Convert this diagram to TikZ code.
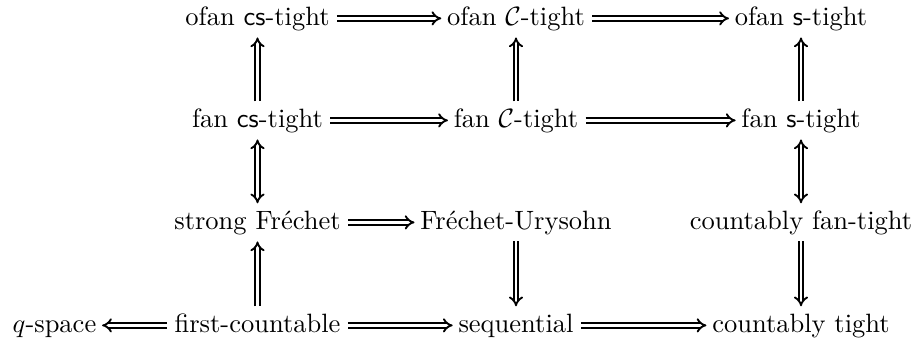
\documentclass[tikz,border=0pt]{standalone}
\usetikzlibrary{arrows.meta}
\begin{document}
\begin{tikzpicture}[x=0.3774pt,y=-0.3774pt]
\tikzset{
  lbl/.style={anchor=base, text height=6.94pt, text depth=1.94pt, inner xsep=2.6pt, inner ysep=0pt},
  dbl/.style={double, double distance=1.05pt, line width=0.7pt},
  imp/.style={dbl, -{Implies}, shorten >=-0.6pt},
  vimp/.style={dbl, -{Implies}, shorten <=7.2pt, shorten >=7.2pt},
  vimpb/.style={dbl, {Implies}-{Implies}, shorten <=7.2pt, shorten >=7.2pt}
}
\useasboundingbox (0,0) rectangle (917,344);
% row 1
\node[lbl] (ofancs) at (257.5,25) {ofan \textsf{cs}-tight};
\node[lbl] (ofanC)  at (516,25)   {ofan $\mathcal{C}$-tight};
\node[lbl] (ofans)  at (801,25)   {ofan \textsf{s}-tight};
% row 2
\node[lbl] (fancs) at (257.5,127) {fan \textsf{cs}-tight};
\node[lbl] (fanC)  at (516,127)   {fan $\mathcal{C}$-tight};
\node[lbl] (fans)  at (801,127)   {fan \textsf{s}-tight};
% row 3
\node[lbl] (sf)  at (257.5,229) {strong Fr\'echet};
\node[lbl] (fu)  at (516,229)   {Fr\'echet-Urysohn};
\node[lbl] (cft) at (801,229)   {countably fan-tight};
% row 4
\node[lbl] (q)   at (54.5,332)  {$q$-space};
\node[lbl] (fc)  at (257.5,332) {first-countable};
\node[lbl] (seq) at (516,332)   {sequential};
\node[lbl] (ct)  at (801,332)   {countably tight};
% horizontal arrows
\draw[imp] (ofancs.east) -- (ofanC.west);
\draw[imp] (ofanC.east) -- (ofans.west);
\draw[imp] (fancs.east) -- (fanC.west);
\draw[imp] (fanC.east) -- (fans.west);
\draw[imp] (sf.east) -- (fu.west);
\draw[imp] (fc.west) -- (q.east);
\draw[imp] (fc.east) -- (seq.west);
\draw[imp] (seq.east) -- (ct.west);
% vertical arrows
\draw[vimp] (fancs.center) -- (ofancs.center);
\draw[vimp] (fanC.center) -- (ofanC.center);
\draw[vimp] (fans.center) -- (ofans.center);
\draw[vimpb] (fancs.center) -- (sf.center);
\draw[vimpb] (fans.center) -- (cft.center);
\draw[vimp] (fc.center) -- (sf.center);
\draw[vimp] (fu.center) -- (seq.center);
\draw[vimp] (cft.center) -- (ct.center);
\end{tikzpicture}
\end{document}
